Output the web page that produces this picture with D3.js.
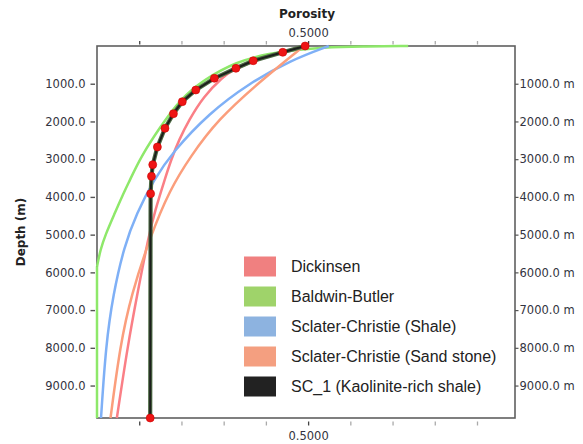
<!DOCTYPE html>
<html><head><meta charset="utf-8">
<script src="https://cdn.jsdelivr.net/npm/d3@7"></script>
<style>body{margin:0;background:#fff}</style>
</head><body>
<svg id="chart" width="583" height="444"></svg>
<script>
// ---- data (depth in m, porosity fraction) ----
const depthTicks = [1000, 2000, 3000, 4000, 5000, 6000, 7000, 8000, 9000];
const porosityTicks = [0.1, 0.2, 0.3, 0.4, 0.5, 0.6, 0.7, 0.8, 0.9];
const porosityLabelTicks = [0.5];
const seriesNames = ["Dickinsen", "Baldwin-Butler", "Sclater-Christie (Shale)", "Sclater-Christie (Sand stone)", "SC_1 (Kaolinite-rich shale)"];

// [depth, porosity]
const dickinsen = [[0,0.49],[180,0.43],[400,0.368],[640,0.322],[814,0.298],[1344,0.252],[1961,0.218],[2492,0.194],[3000,0.176],[3552,0.16],[4347,0.138],[5000,0.123],[6600,0.095],[7925,0.073],[9860,0.047]];
const baldwinButler = [[0,0.737],[10,0.63],[40,0.53],[100,0.475],[193,0.41],[411,0.33],[901,0.252],[1400,0.198],[2139,0.15],[2934,0.104],[3552,0.078],[3994,0.059],[4434,0.042],[5000,0.02],[5400,0.008],[5850,0],[9860,0]];
const sclaterShale = [[0,0.549],[371,0.46],[989,0.36],[1784,0.265],[2800,0.18],[3552,0.134],[4434,0.094],[5320,0.064],[6600,0.038],[7925,0.021],[9860,0.0095]];
const sclaterSand = [[0,0.49],[900,0.39],[1961,0.285],[2934,0.221],[3817,0.172],[5055,0.126],[6600,0.081],[7925,0.055],[9860,0.032]];
const sc1 = [[0,0.493],[167,0.44],[390,0.37],[591,0.329],[856,0.278],[1166,0.234],[1476,0.202],[1794,0.181],[2181,0.161],[2677,0.143],[3146,0.132],[3454,0.129],[3915,0.127],[9860,0.126]];

// ---- styles ----
const lineColors = ["#fa7f86", "#8ee86a", "#7fb0f6", "#fb9e7c", "#1c1f1c"];
const swatchColors = ["#f08080", "#9fd36a", "#8db3e0", "#f49f80", "#222222"];

const svg = d3.select("#chart");
const x = d3.scaleLinear().domain([0, 0.99]).range([97, 515]);
const y = d3.scaleLinear().domain([0, 9860]).range([46, 418]);
const tickFont = "DejaVu Sans, Verdana, sans-serif";

// frame
svg.append("rect").attr("x", 97).attr("y", 46).attr("width", 418).attr("height", 372)
  .attr("fill", "none").attr("stroke", "#5f5f5f").attr("stroke-width", 1.6);

// left axis
const gl = svg.append("g").attr("transform", "translate(95,0)")
  .call(d3.axisLeft(y).tickValues(depthTicks).tickFormat(d => d.toFixed(1)).tickSize(4.5).tickPadding(5));
gl.select(".domain").remove();
gl.selectAll("line").attr("stroke", "#555").attr("stroke-width", 1.4);
gl.selectAll("text").attr("font-family", tickFont).attr("font-size", 11.5).attr("fill", "#333340");

// right axis
const gr = svg.append("g").attr("transform", "translate(515,0)")
  .call(d3.axisRight(y).tickValues(depthTicks).tickFormat(d => d.toFixed(1) + " m").tickSize(3.5).tickPadding(1));
gr.select(".domain").remove();
gr.selectAll("line").attr("stroke", "#555").attr("stroke-width", 1.2);
gr.selectAll("text").attr("font-family", tickFont).attr("font-size", 11.5).attr("fill", "#333340");

// top axis
const gt = svg.append("g").attr("transform", "translate(0,44.5)")
  .call(d3.axisTop(x).tickValues(porosityTicks).tickFormat(d => porosityLabelTicks.includes(d) ? d.toFixed(4) : "").tickSize(3.5).tickPadding(4));
gt.select(".domain").remove();
gt.selectAll("line").attr("stroke", d => (d === 0.1 || d === 0.5) ? "#444" : "#aaa").attr("stroke-width", 1.3);
gt.selectAll("text").attr("font-family", tickFont).attr("font-size", 11.5).attr("fill", "#333340");

// bottom axis
const gb = svg.append("g").attr("transform", "translate(0,421.5)")
  .call(d3.axisBottom(x).tickValues(porosityTicks).tickFormat(d => porosityLabelTicks.includes(d) ? d.toFixed(4) : "").tickSize(4).tickPadding(6));
gb.select(".domain").remove();
gb.selectAll("line").attr("stroke", d => (d === 0.1 || d === 0.5) ? "#444" : "#aaa").attr("stroke-width", 1.3);
gb.selectAll("text").attr("font-family", tickFont).attr("font-size", 11.5).attr("fill", "#333340");

// titles
svg.append("text").attr("x", 307).attr("y", 18).attr("text-anchor", "middle")
  .attr("font-family", tickFont).attr("font-weight", "bold").attr("font-size", 12).attr("fill", "#222")
  .text("Porosity");
svg.append("text").attr("transform", "translate(25,232) rotate(-90)").attr("text-anchor", "middle")
  .attr("font-family", tickFont).attr("font-weight", "bold").attr("font-size", 12).attr("fill", "#222")
  .text("Depth (m)");

// model curves: smooth part until porosity reaches zero, straight afterwards
const curve = d3.line().x(d => x(d[1])).y(d => y(d[0])).curve(d3.curveBasis);
const lin = d3.line().x(d => x(d[1])).y(d => y(d[0]));
const models = [dickinsen, baldwinButler, sclaterShale, sclaterSand];
models.forEach((data, i) => {
  const k = data.findIndex(d => d[1] === 0);
  const smooth = k >= 0 ? data.slice(0, k + 1) : data;
  svg.append("path").attr("d", curve(smooth)).attr("fill", "none")
    .attr("stroke", lineColors[i]).attr("stroke-width", 2.5);
  if (k >= 0) {
    svg.append("path").attr("d", lin(data.slice(k))).attr("fill", "none")
      .attr("stroke", lineColors[i]).attr("stroke-width", 2.5);
  }
});

// SC_1
svg.append("path").attr("d", lin(sc1)).attr("fill", "none").attr("stroke", "#4d6a44").attr("stroke-width", 4.2).attr("stroke-linejoin", "round");
svg.append("path").attr("d", lin(sc1)).attr("fill", "none").attr("stroke", lineColors[4]).attr("stroke-width", 2).attr("stroke-linejoin", "round");
svg.selectAll("circle.pt").data(sc1).enter().append("circle").attr("class", "pt")
  .attr("cx", d => x(d[1])).attr("cy", d => y(d[0])).attr("r", 4)
  .attr("fill", "#ee1515").attr("stroke", "#c00").attr("stroke-width", 0.6);

// legend
const lg = svg.append("g");
seriesNames.forEach((name, i) => {
  const yy = 256.5 + i * 30;
  lg.append("rect").attr("x", 244).attr("y", yy).attr("width", 32).attr("height", 20).attr("fill", swatchColors[i]);
  lg.append("text").attr("x", 291).attr("y", yy + 15).attr("font-family", "Liberation Sans, Arial, sans-serif")
    .attr("font-size", 16).attr("fill", "#222").text(name);
});
</script>
</body></html>
